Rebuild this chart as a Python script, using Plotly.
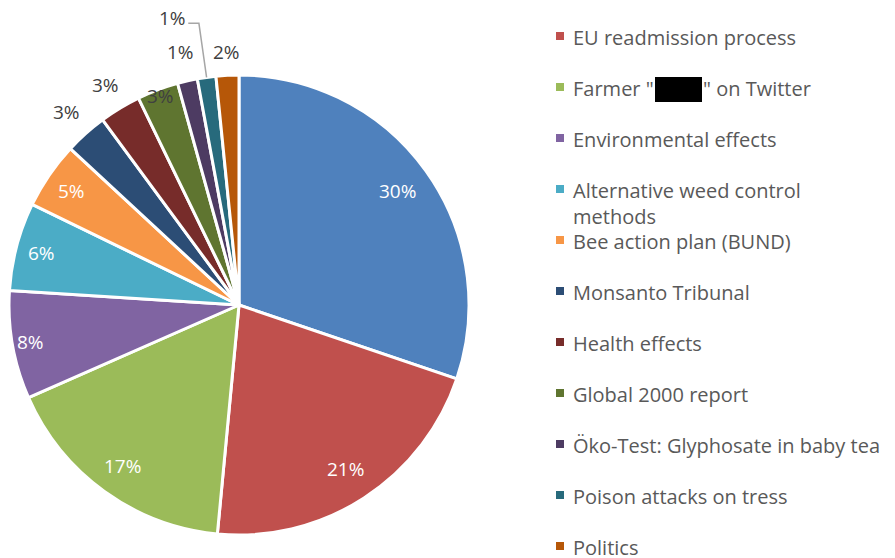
import math
import plotly.graph_objects as go

# topics and their share of the coverage (percent)
topics = ['Glyphosate (other)', 'EU readmission process', 'Farmer "████" on Twitter',
          'Environmental effects', 'Alternative weed control<br>methods', 'Bee action plan (BUND)',
          'Monsanto Tribunal', 'Health effects', 'Global 2000 report',
          'Öko-Test: Glyphosate in baby tea', 'Poison attacks on tress', 'Politics']
shares = [30.2, 21.3, 16.9, 7.6, 6.2, 4.7, 3.0, 2.9, 2.9, 1.4, 1.3, 1.6]
colors = ['#4F81BD', '#C0504D', '#9BBB59', '#8064A2', '#4BACC6', '#F79646',
          '#2C4D75', '#772C2A', '#5F7530', '#4D3B62', '#276A7C', '#B65708']

# label placement: radius as fraction of pie radius, angle nudge in degrees
label_r = [0.85, 0.85, 0.865, 0.92, 0.89, 0.88, 1.125, 1.12, 0.97, 1.13, 1.28, 1.10]
label_nudge = [0, 0, 0, 0, 0, 0, 0, 0, 0, 0, -5, 0]
label_col = ['white'] * 6 + ['#404040'] * 6

# the page has an 8px body margin, so the figure is a bit smaller than the window
W, H = 887, 550
OFF = 8


def px(x):
    return (x - OFF) / W


def py(y):
    return 1 - (y - OFF) / H


# pie geometry in window pixels
CX, CY, R = 239, 305, 230
LEG_FONT = dict(family='Open Sans', size=20, color='#595959')

fig = go.Figure()
fig.add_trace(go.Pie(
    labels=topics, values=shares, sort=False, direction='clockwise', rotation=0,
    marker=dict(colors=colors, line=dict(color='white', width=3)),
    textinfo='none',
    domain=dict(x=[px(CX - R), px(CX + R)], y=[py(CY + R), py(CY - R)]),
    showlegend=False, hoverinfo='label+percent',
))

# percentage labels, placed along each slice's middle angle
total = sum(shares)
cum = 0
for i, v in enumerate(shares):
    mid = (cum + v / 2) / total * 360
    cum += v
    ang = math.radians(mid + label_nudge[i])
    d = label_r[i] * R
    lx = CX + d * math.sin(ang)
    ly = CY - d * math.cos(ang)
    fig.add_annotation(xref='paper', yref='paper', x=px(lx), y=py(ly),
                       xanchor='center', yanchor='middle', showarrow=False,
                       text='%d%%' % round(v / total * 100),
                       font=dict(family='Open Sans', size=19, color=label_col[i]))
    if label_nudge[i] != 0:
        # elbow leader line from the slice edge to the label
        a0 = math.radians(mid)
        ex, ey = CX + R * math.sin(a0), CY - R * math.cos(a0)
        bx, by = CX + 1.237 * R * math.sin(a0), CY - 1.237 * R * math.cos(a0)
        fig.add_shape(type='path', xref='paper', yref='paper',
                      path='M %f,%f L %f,%f L %f,%f' % (px(ex), py(ey), px(bx), py(by),
                                                        px(lx + 16), py(by)),
                      line=dict(color='#A6A6A6', width=1.5))

# hand-built legend; the first entry sits above the visible area in the original
for i, (name, col) in enumerate(zip(topics, colors)):
    if i == 0:
        continue
    yc = -15 + 51 * i
    fig.add_shape(type='rect', xref='paper', yref='paper',
                  x0=px(556), x1=px(564), y0=py(yc + 4), y1=py(yc - 4),
                  fillcolor=col, line=dict(width=0))
    if '████' in name:
        # redacted name: black box between the two text halves
        left, right = name.split('████')
        fig.add_annotation(xref='paper', yref='paper', x=px(571), y=py(yc - 14),
                           xanchor='left', yanchor='top', text=left,
                           showarrow=False, font=LEG_FONT)
        fig.add_shape(type='rect', xref='paper', yref='paper',
                      x0=px(655), x1=px(702), y0=py(yc + 15), y1=py(yc - 10),
                      fillcolor='black', line=dict(width=0))
        fig.add_annotation(xref='paper', yref='paper', x=px(701), y=py(yc - 14),
                           xanchor='left', yanchor='top', text=right,
                           showarrow=False, font=LEG_FONT)
        continue
    fig.add_annotation(xref='paper', yref='paper', x=px(571), y=py(yc - 14),
                       xanchor='left', yanchor='top', align='left', text=name,
                       showarrow=False, font=LEG_FONT)

fig.update_layout(
    width=W, height=H,
    margin=dict(l=0, r=0, t=0, b=0),
    paper_bgcolor='white', plot_bgcolor='white',
)

fig.write_html("out.html")
